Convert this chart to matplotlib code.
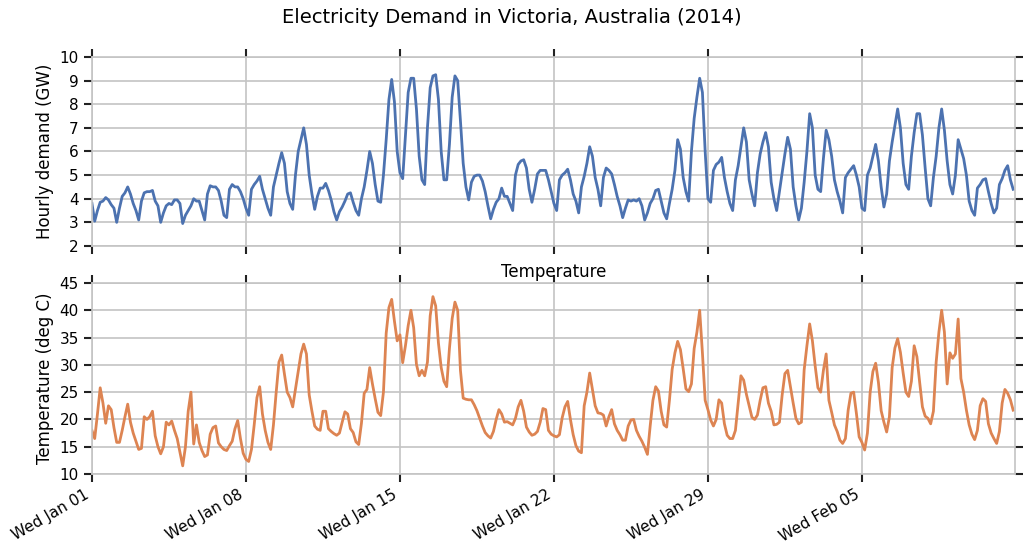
import pandas as pd
import matplotlib
matplotlib.use('Agg')
import matplotlib.pyplot as plt
import matplotlib.dates as mdates

# Readings every 3 hours (00, 03, ..., 21), one row per day, Jan 01 - Feb 11 2014
demand_gw = [
    3.8, 3.05, 3.5, 3.85, 3.9, 4.05, 3.95, 3.75,   # Jan 01
    3.6, 3.0, 3.6, 4.1, 4.25, 4.5, 4.2, 3.8,
    3.5, 3.1, 3.9, 4.25, 4.3, 4.3, 4.35, 3.9,
    3.7, 3.0, 3.4, 3.7, 3.8, 3.75, 3.95, 3.95,
    3.8, 2.95, 3.3, 3.5, 3.7, 4.0, 3.9, 3.9,
    3.5, 3.1, 4.2, 4.55, 4.5, 4.5, 4.35, 3.9,
    3.3, 3.2, 4.4, 4.6, 4.5, 4.5, 4.3, 4.0,
    3.6, 3.3, 4.4, 4.6, 4.75, 4.95, 4.4, 4.0,      # Jan 08
    3.6, 3.3, 4.5, 5.0, 5.5, 5.95, 5.5, 4.3,
    3.8, 3.55, 5.0, 6.0, 6.5, 7.0, 6.3, 5.0,
    4.2, 3.55, 4.1, 4.45, 4.45, 4.65, 4.35, 3.95,
    3.45, 3.1, 3.45, 3.65, 3.9, 4.2, 4.25, 3.85,
    3.5, 3.3, 4.0, 4.5, 5.2, 6.0, 5.5, 4.6,
    3.9, 3.85, 5.0, 6.5, 8.2, 9.05, 8.1, 6.0,
    5.1, 4.85, 6.7, 8.5, 9.1, 9.1, 7.8, 5.8,       # Jan 15
    4.8, 4.6, 7.0, 8.7, 9.2, 9.25, 8.2, 6.0,
    4.8, 4.8, 6.3, 8.3, 9.2, 9.0, 7.3, 5.5,
    4.5, 3.95, 4.7, 4.95, 5.0, 5.0, 4.75, 4.3,
    3.7, 3.15, 3.55, 3.85, 4.0, 4.45, 4.1, 4.1,
    3.8, 3.5, 5.0, 5.45, 5.6, 5.65, 5.3, 4.4,
    3.85, 4.4, 5.05, 5.2, 5.2, 5.2, 4.8, 4.3,
    3.8, 3.5, 4.8, 5.0, 5.1, 5.25, 4.8, 4.2,       # Jan 22
    3.9, 3.4, 4.5, 4.95, 5.5, 6.2, 5.8, 4.9,
    4.4, 3.7, 4.9, 5.3, 5.2, 5.05, 4.6, 4.1,
    3.7, 3.2, 3.6, 3.95, 3.9, 3.95, 3.9, 4.0,
    3.7, 3.1, 3.4, 3.8, 4.0, 4.35, 4.4, 3.9,
    3.4, 3.15, 3.8, 4.4, 5.2, 6.5, 6.1, 4.9,
    4.3, 3.9, 6.0, 7.4, 8.3, 9.1, 8.5, 6.0,
    4.0, 3.85, 5.2, 5.45, 5.55, 5.75, 4.9, 4.3,    # Jan 29
    3.8, 3.5, 4.8, 5.4, 6.2, 7.0, 6.4, 4.8,
    4.2, 3.7, 5.1, 5.9, 6.4, 6.8, 6.2, 4.7,
    4.0, 3.5, 4.3, 5.1, 5.9, 6.6, 6.1, 4.5,
    3.7, 3.1, 3.6, 4.7, 6.0, 7.6, 7.0, 5.0,
    4.4, 4.3, 5.7, 6.9, 6.5, 5.8, 4.8, 4.3,
    3.9, 3.4, 4.9, 5.1, 5.25, 5.4, 5.0, 4.5,
    3.6, 3.5, 5.0, 5.3, 5.8, 6.3, 5.6, 4.5,        # Feb 05
    3.65, 4.2, 5.6, 6.4, 7.1, 7.8, 7.0, 5.5,
    4.6, 4.4, 5.8, 6.8, 7.6, 7.6, 6.7, 5.3,
    4.0, 3.7, 4.9, 5.8, 7.0, 7.8, 6.9, 5.6,
    4.6, 4.2, 5.0, 6.5, 6.1, 5.7, 5.0, 3.9,
    3.5, 3.3, 4.45, 4.6, 4.8, 4.85, 4.3, 3.8,
    3.4, 3.6, 4.6, 4.85, 5.2, 5.4, 4.8, 4.4,
]

temp_c = [
    18.0, 16.5, 21.0, 25.8, 23.0, 19.3, 22.5, 21.8,   # Jan 01
    18.5, 15.8, 15.8, 18.0, 20.5, 22.8, 19.5, 17.5,
    16.0, 14.5, 14.7, 20.5, 20.0, 20.5, 21.5, 17.0,
    15.0, 13.7, 15.0, 19.5, 19.0, 19.7, 18.0, 16.5,
    14.0, 11.5, 15.0, 21.5, 25.0, 15.5, 19.0, 15.8,
    14.3, 13.2, 13.5, 17.3, 18.5, 18.8, 15.7, 15.0,
    14.5, 14.3, 15.2, 16.0, 18.3, 19.8, 16.5, 13.8,
    12.7, 12.3, 14.5, 19.0, 24.0, 26.0, 21.0, 18.0,   # Jan 08
    15.8, 14.5, 19.0, 25.0, 30.5, 31.8, 28.3, 25.0,
    24.0, 22.3, 25.5, 28.8, 32.0, 33.8, 32.0, 24.5,
    21.5, 18.8, 18.2, 18.0, 21.5, 21.5, 18.3, 17.8,
    17.4, 17.1, 17.5, 19.5, 21.4, 21.0, 18.3, 17.6,
    15.9, 15.4, 19.3, 24.8, 25.5, 29.5, 26.5, 23.8,
    21.3, 20.7, 25.0, 35.8, 40.5, 42.0, 38.0, 34.4,
    35.5, 30.4, 33.5, 37.2, 40.0, 36.8, 30.1, 28.0,   # Jan 15
    29.0, 28.0, 30.5, 39.0, 42.5, 40.8, 34.0, 29.5,
    27.0, 26.0, 33.0, 38.5, 41.5, 40.0, 29.0, 23.9,
    23.7, 23.6, 23.6, 22.7, 21.6, 20.2, 18.8, 17.6,
    17.0, 16.6, 17.8, 20.0, 21.8, 21.0, 19.5, 19.6,
    19.3, 19.0, 20.2, 22.3, 23.5, 21.5, 18.6, 17.7,
    17.1, 17.3, 17.8, 19.5, 22.0, 21.8, 18.0, 17.3,
    17.0, 16.8, 17.2, 20.3, 22.3, 23.3, 20.0, 17.2,   # Jan 22
    15.2, 14.2, 13.9, 22.5, 25.0, 28.5, 25.5, 22.5,
    21.2, 21.1, 20.8, 18.8, 20.5, 21.8, 19.2, 18.0,
    17.2, 16.2, 16.2, 18.8, 19.9, 20.0, 18.0, 16.9,
    16.0, 14.9, 13.6, 18.8, 23.5, 26.0, 25.2, 21.5,
    19.0, 18.6, 23.5, 29.2, 32.2, 34.3, 32.8, 29.3,
    25.6, 25.1, 26.5, 33.0, 36.0, 40.0, 32.2, 23.5,
    21.8, 19.9, 18.8, 20.0, 23.6, 23.0, 19.2, 17.1,   # Jan 29
    16.5, 16.5, 18.0, 23.0, 28.0, 27.2, 24.6, 22.5,
    20.4, 20.0, 20.8, 23.5, 25.8, 26.0, 23.0, 21.5,
    19.0, 19.1, 19.5, 24.5, 28.4, 29.0, 26.0, 23.0,
    20.2, 19.2, 19.5, 29.1, 33.5, 37.5, 34.4, 29.8,
    25.8, 25.0, 29.0, 32.0, 23.5, 21.3, 19.0, 17.8,
    16.2, 15.6, 16.5, 21.7, 24.8, 25.0, 21.1, 16.8,
    15.8, 14.4, 17.5, 25.0, 28.8, 30.3, 26.8, 21.6,   # Feb 05
    19.5, 17.7, 20.5, 29.5, 33.1, 34.8, 32.3, 28.5,
    25.0, 24.2, 27.0, 33.5, 31.5, 26.8, 22.3, 20.6,
    20.2, 19.2, 21.5, 30.5, 36.0, 40.0, 36.0, 26.5,
    32.2, 31.2, 32.0, 38.4, 27.5, 25.0, 21.7, 19.0,
    17.3, 16.3, 18.0, 22.5, 23.8, 23.3, 19.2, 17.5,
    16.5, 15.6, 17.8, 23.0, 25.5, 24.8, 23.6, 21.7,
]

times = pd.date_range('2014-01-01', periods=len(demand_gw), freq='3h')

GRID = '#c4c4c4'

fig = plt.figure(figsize=(10.24, 5.55), dpi=100)
ax1 = fig.add_axes([0.0898, 0.5568, 0.9014, 0.3405])
ax2 = fig.add_axes([0.0898, 0.1459, 0.9014, 0.3442], sharex=ax1)

ax1.plot(times, demand_gw, color='#4C72B0', linewidth=2)
ax2.plot(times, temp_c, color='#DD8452', linewidth=2)

ax1.set_ylim(2, 10)
ax1.set_yticks(range(2, 11))
ax2.set_ylim(10, 45)
ax2.set_yticks(range(10, 46, 5))
ax1.set_xlim(pd.Timestamp('2014-01-01'), pd.Timestamp('2014-02-11 23:00'))

for ax in (ax1, ax2):
    ax.grid(True, color=GRID, linewidth=1.2)
    ax.set_axisbelow(True)
    for sp in ax.spines.values():
        sp.set_color(GRID)
        sp.set_linewidth(1.2)
    ax.tick_params(direction='out', length=6, width=1.5, color='#222222',
                   top=True, right=True, labelsize=11)
    ax.xaxis.set_major_locator(mdates.WeekdayLocator(byweekday=mdates.WE))
    ax.xaxis.set_major_formatter(mdates.DateFormatter('%a %b %d'))

ax1.tick_params(labelbottom=False)
for lbl in ax2.get_xticklabels():
    lbl.set_rotation(30)
    lbl.set_ha('right')

ax1.set_ylabel('Hourly demand (GW)', fontsize=12)
ax2.set_ylabel('Temperature (deg C)', fontsize=12)
ax2.set_title('Temperature', fontsize=12, pad=4)
fig.suptitle('Electricity Demand in Victoria, Australia (2014)', fontsize=14, y=0.985)

fig.savefig('out.png', dpi=100)
